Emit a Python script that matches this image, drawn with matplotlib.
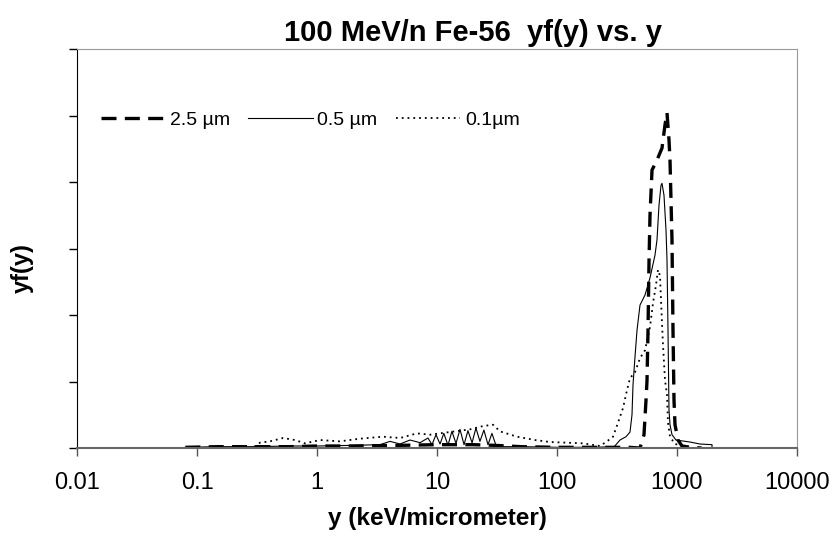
import numpy as np
import matplotlib.pyplot as plt

plt.rcParams['font.family'] = ['Liberation Sans', 'DejaVu Sans']

# 2.5 um  (thick dashed)
y_25 = [0.08, 0.15, 0.3, 0.6, 1.0, 2.0, 5.0, 10.0, 20.0, 30.0, 50.0, 100.0, 200.0, 400.0,
        491.7, 530.9, 551.7, 562.3, 573.4, 584.8, 595.7, 619.2, 681.3, 749.9, 794.3, 825.4,
        857.7, 874.4, 908.4, 926.2, 944.1, 962.4, 1019.4, 1100.6, 1300.0, 1600.0]
yf_25 = [0.01, 0.02, 0.02, 0.02, 0.03, 0.03, 0.04, 0.05, 0.05, 0.04, 0.02, 0.01, 0.01, 0.01,
         0.0, 0.2, 0.72, 1.01, 1.77, 2.83, 3.5, 4.18, 4.33, 4.51, 4.86, 5.04,
         4.63, 4.33, 3.13, 1.77, 0.72, 0.35, 0.12, 0.03, 0.01, 0.0]

# 0.5 um  (thin solid)
y_05 = [0.08, 0.15, 0.3, 0.6, 1.0, 2.0, 3.35, 4.06, 4.92, 5.96, 7.22, 8.41, 9.08, 9.81,
        10.6, 11.4, 12.35, 13.3, 14.4, 15.55, 16.8, 18.1, 19.6, 21.1, 22.8, 24.6, 26.6,
        28.7, 31.0, 33.5, 50.0, 100.0, 200.0, 300.0,
        335.0, 376.0, 405.9, 421.7, 429.9, 446.7, 464.2, 491.7, 541.2, 595.7, 655.6, 681.3,
        707.9, 735.6, 749.9, 779.2, 809.6, 825.4, 841.4, 857.7, 874.4, 908.4, 981.0,
        1283.0, 1555.0, 1957.0, 1960.0]
yf_05 = [0.01, 0.02, 0.02, 0.03, 0.03, 0.04, 0.05, 0.1, 0.06, 0.12, 0.08, 0.15, 0.05, 0.2,
         0.06, 0.22, 0.04, 0.25, 0.07, 0.28, 0.05, 0.26, 0.08, 0.3, 0.1, 0.27, 0.05,
         0.22, 0.04, 0.02, 0.02, 0.01, 0.01, 0.02,
         0.12, 0.17, 0.24, 0.5, 0.95, 1.37, 1.77, 2.15, 2.3, 2.56, 2.9, 3.13,
         3.65, 3.95, 3.98, 3.8, 3.28, 2.83, 1.77, 0.57, 0.35, 0.2, 0.12,
         0.09, 0.06, 0.05, 0.0]

# 0.1 um  (dotted)
y_01 = [0.3, 0.335, 0.406, 0.521, 0.656, 0.794, 1.06, 1.55, 2.28, 3.55, 4.92, 6.81, 8.75,
        12.8, 18.8, 24.2, 29.3, 33.5, 46.4, 65.6, 87.4, 165.0,
        228.2, 261.0, 292.9, 322.4, 354.8, 383.1, 405.9, 446.7, 491.7, 541.2, 595.7, 631.0,
        668.3, 694.5, 721.7, 735.6, 749.9, 764.3, 794.3, 825.4, 841.4, 874.4, 962.4, 1166.0]
yf_01 = [0.02, 0.08, 0.1, 0.15, 0.12, 0.07, 0.12, 0.1, 0.14, 0.17, 0.15, 0.22, 0.2,
         0.24, 0.28, 0.33, 0.35, 0.25, 0.17, 0.12, 0.09, 0.07,
         0.03, 0.1, 0.17, 0.38, 0.6, 0.87, 1.05, 1.14, 1.35, 1.47, 1.82, 2.18,
         2.45, 2.68, 2.59, 2.23, 1.88, 1.55, 1.02, 0.8, 0.38, 0.17, 0.06, 0.03]

x_ticks = [0.01, 0.1, 1, 10, 100, 1000, 10000]
x_ticklabels = ['0.01', '0.1', '1', '10', '100', '1000', '10000']

fig = plt.figure(figsize=(8.34, 5.43), dpi=100)
ax = fig.add_axes([77/834, 95/543, 720/834, 399/543])

ax.plot(y_25, yf_25, color='black', lw=2.4, ls=(0, (4.5, 2.5)), label='2.5 µm')
ax.plot(y_05, yf_05, color='black', lw=0.8, ls='-', label='0.5 µm')
ax.plot(y_01, yf_01, color='black', lw=1.3, ls=(0, (1, 2.2)), label='0.1µm')

ax.set_xscale('log')
ax.set_xlim(0.01, 10000)
ax.set_ylim(0, 6)
ax.set_xticks(x_ticks)
ax.set_xticklabels(x_ticklabels)
ax.minorticks_off()
ax.set_yticks([0, 1, 2, 3, 4, 5, 6])
ax.set_yticklabels([])
ax.tick_params(axis='x', direction='out', length=6, width=1, colors='#555555',
               labelcolor='black', labelsize=17, pad=11)
ax.tick_params(axis='y', direction='out', length=6, width=1, colors='black')

ax.spines['left'].set_color('black')
ax.spines['bottom'].set_color('#666666')
ax.spines['bottom'].set_linewidth(1.5)
ax.spines['top'].set_color('#999999')
ax.spines['right'].set_color('#999999')

fig.text(473/834, 1 - 33/543, '100 MeV/n Fe-56  yf(y) vs. y', fontsize=21,
         fontweight='bold', ha='center', va='center')
ax.set_xlabel('y (keV/micrometer)', fontsize=17.5, fontweight='bold', labelpad=10)
fig.text(22/834, 1 - 268/543, 'yf(y)', fontsize=17, fontweight='bold',
         rotation=90, ha='center', va='center')

ax.legend(loc='center left', bbox_to_anchor=(0.033, 0.822), ncol=3, frameon=False,
          fontsize=14, handlelength=3.3, handletextpad=0.25, columnspacing=0.95,
          borderpad=0, borderaxespad=0)

fig.savefig('out.png', dpi=100)
